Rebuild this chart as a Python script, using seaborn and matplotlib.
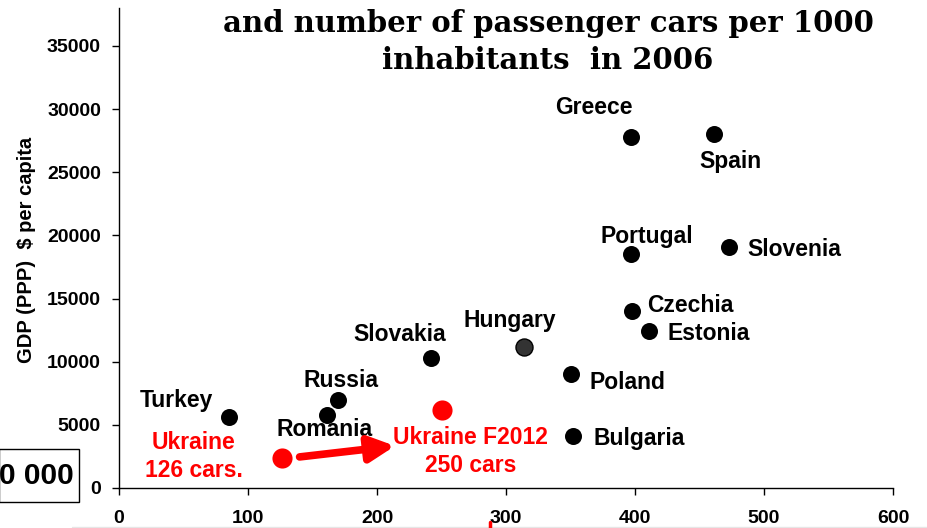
import numpy as np
import pandas as pd
import seaborn as sns
import matplotlib.pyplot as plt
from matplotlib.patches import Rectangle
from matplotlib.lines import Line2D

# cars per 1000 inhabitants and GDP (PPP) $ per capita, 2006
countries = ['Greece', 'Spain', 'Portugal', 'Slovenia', 'Czechia', 'Estonia',
             'Hungary', 'Slovakia', 'Poland', 'Bulgaria', 'Russia', 'Romania',
             'Turkey', 'Ukraine', 'Ukraine F2012']
cars = [397, 461, 397, 473, 398, 411, 314, 242, 350, 352, 170, 161, 85, 126, 250]
gdp = [27800, 28000, 18500, 19100, 14000, 12400, 11200, 10300, 9000, 4100,
       7000, 5800, 5600, 2400, 6200]
group = ['eu'] * 6 + ['hu'] + ['eu'] * 6 + ['ua', 'ua']
labels = ['Greece', 'Spain', 'Portugal', 'Slovenia', 'Czechia', 'Estonia',
          'Hungary', 'Slovakia', 'Poland', 'Bulgaria', 'Russia', 'Romania',
          'Turkey', 'Ukraine\n126 cars.', 'Ukraine F2012\n250 cars']

title = 'and number of passenger cars per 1000\ninhabitants  in 2006'
x_ticks = [0, 100, 200, 300, 400, 500, 600]
y_ticks = [0, 5000, 10000, 15000, 20000, 25000, 30000, 35000]

df = pd.DataFrame({'country': countries, 'cars': cars, 'gdp': gdp,
                   'group': group, 'label': labels})

# label offsets in pixels (layout only)
offsets = {
    'Greece': (-37, 29, 'center'), 'Spain': (17, -27, 'center'),
    'Portugal': (16, 18, 'center'), 'Slovenia': (18, -3, 'left'),
    'Czechia': (15, 6, 'left'), 'Estonia': (18, -2, 'left'),
    'Hungary': (-14, 26, 'center'), 'Slovakia': (-32, 23, 'center'),
    'Poland': (19, -8, 'left'), 'Bulgaria': (20, -2, 'left'),
    'Russia': (3, 19, 'center'), 'Romania': (-2, -15, 'center'),
    'Turkey': (-52, 17, 'center'), 'Ukraine': (-88, 1, 'center'),
    'Ukraine F2012': (29, -42, 'center'),
}

sns.set_style('white')
plt.rcParams['font.family'] = ['Liberation Sans', 'DejaVu Sans']
plt.rcParams['text.color'] = 'black'
plt.rcParams['xtick.color'] = 'black'
plt.rcParams['ytick.color'] = 'black'

fig = plt.figure(figsize=(9.28, 5.28), dpi=100)
ax = fig.add_axes([119 / 928, 1 - 488 / 528, 774 / 928, 480 / 528])

palette = {'eu': 'black', 'hu': '#333333', 'ua': '#ff0000'}
sizes = {'eu': 150, 'hu': 150, 'ua': 210}
for g in ['eu', 'hu', 'ua']:
    sub = df[df['group'] == g]
    sns.scatterplot(data=sub, x='cars', y='gdp', ax=ax, color=palette[g],
                    s=sizes[g], edgecolor='black' if g == 'hu' else palette[g],
                    linewidth=1 if g == 'hu' else 0, legend=False, zorder=3)

for _, row in df.iterrows():
    dx, dy, ha = offsets[row['country']]
    col = 'red' if row['group'] == 'ua' else 'black'
    ax.annotate(row['label'], (row['cars'], row['gdp']), xytext=(dx, dy),
                textcoords='offset pixels', ha=ha, va='center', fontsize=16.5,
                fontweight='bold', color=col, linespacing=1.25)

# arrow from Ukraine 2006 towards the 2012 label
ua = df[df['country'] == 'Ukraine'].iloc[0]
ax.annotate('', xy=(ua['cars'] + 88, ua['gdp'] + 930),
            xytext=(ua['cars'] + 14, ua['gdp'] + 60),
            arrowprops=dict(arrowstyle='-|>', color='red', lw=5.5,
                            mutation_scale=38, shrinkA=0, shrinkB=0))

ax.set_xlim(0, 600)
ax.set_ylim(0, 38000)
ax.set_xticks(x_ticks)
ax.set_yticks(y_ticks)
ax.set_xticklabels([str(t) for t in x_ticks], fontsize=14, fontweight='bold')
ax.set_yticklabels([str(t) for t in y_ticks], fontsize=14, fontweight='bold')
ax.tick_params(axis='x', direction='out', length=5, width=1, pad=11, bottom=True)
ax.tick_params(axis='y', direction='out', length=5, width=1, pad=8, left=True)
ax.set_xlabel('')
ax.set_ylabel('')
sns.despine(ax=ax)
for sp in ['left', 'bottom']:
    ax.spines[sp].set_color('black')
    ax.spines[sp].set_linewidth(1)

fig.text(27 / 928, 1 - 250 / 528, 'GDP (PPP)  $ per capita', rotation=90,
         ha='center', va='center', fontsize=14.5, fontweight='bold')

fig.text(548 / 928, 1 - 42 / 528, title, ha='center', va='center',
         fontsize=21, fontweight='bold', family='DejaVu Serif', linespacing=1.35)

# cut-off box at the lower left
fig.patches.append(Rectangle((-1 / 928, 1 - 502 / 528), 80 / 928, 53 / 528,
                             transform=fig.transFigure, fill=False,
                             edgecolor='black', lw=1))
fig.text(74 / 928, 1 - 476 / 528, '0 000', ha='right', va='center',
         fontsize=21.5, fontweight='bold')

# fragments along the bottom edge
fig.lines.append(Line2D([72 / 928, 1], [1 - 527 / 528] * 2,
                        transform=fig.transFigure, color='#e6e6e6', lw=1))
fig.lines.append(Line2D([490 / 928] * 2, [0, 1 - 522 / 528],
                        transform=fig.transFigure, color='red', lw=2.5))

fig.savefig('out.png', dpi=100)
